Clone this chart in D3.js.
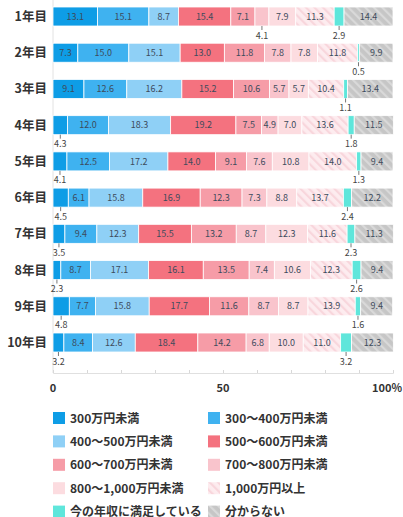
<!DOCTYPE html>
<html><head><meta charset="utf-8">
<script src="https://cdn.jsdelivr.net/npm/d3@7"></script>
<style>
html,body{margin:0;padding:0;background:#fff;}
svg{display:block;font-family:"Noto Sans CJK JP","Noto Sans",sans-serif;}
</style>
</head><body>
<script>
const years = ["1年目","2年目","3年目","4年目","5年目","6年目","7年目","8年目","9年目","10年目"];
const seriesNames = ["300万円未満","300〜400万円未満","400〜500万円未満","500〜600万円未満","600〜700万円未満","700〜800万円未満","800〜1,000万円未満","1,000万円以上","今の年収に満足している","分からない"];
const s300 = [13.1,7.3,9.1,4.3,4.1,4.5,3.5,2.3,4.8,3.2];
const s400 = [15.1,15.0,12.6,12.0,12.5,6.1,9.4,8.7,7.7,8.4];
const s500 = [8.7,15.1,16.2,18.3,17.2,15.8,12.3,17.1,15.8,12.6];
const s600 = [15.4,13.0,15.2,19.2,14.0,16.9,15.5,16.1,17.7,18.4];
const s700 = [7.1,11.8,10.6,7.5,9.1,12.3,13.2,13.5,11.6,14.2];
const s800 = [4.1,7.8,5.7,4.9,7.6,7.3,8.7,7.4,8.7,6.8];
const s1000 = [7.9,7.8,5.7,7.0,10.8,8.8,12.3,10.6,8.7,10.0];
const sOver = [11.3,11.8,10.4,13.6,14.0,13.7,11.6,12.3,13.9,11.0];
const sSatisfied = [2.9,0.5,1.1,1.8,1.3,2.4,2.3,2.6,1.6,3.2];
const sUnknown = [14.4,9.9,13.4,11.5,9.4,12.2,11.3,9.4,9.4,12.3];
const tickLabels = ["0","50","100%"];

const seriesValues = [s300,s400,s500,s600,s700,s800,s1000,sOver,sSatisfied,sUnknown];
const fills = ["#0e9de6","#3fb2f0","#8fd0f6","#f4727f","#f69ca7","#f9c4cc","#fcdce0","url(#hatchPink)","#5fe6db","url(#hatchGray)"];

const W = 403, H = 517;
const svg = d3.select("body").append("svg").attr("width", W).attr("height", H);
const defs = svg.append("defs");
function hatch(id, base, stripe){
  const p = defs.append("pattern").attr("id", id).attr("patternUnits","userSpaceOnUse")
    .attr("width",6).attr("height",6).attr("patternTransform","rotate(-45)");
  p.append("rect").attr("width",6).attr("height",6).attr("fill",base);
  p.append("rect").attr("width",2.2).attr("height",6).attr("fill",stripe);
}
hatch("hatchPink","#fdecef","#f8d6dc");
hatch("hatchGray","#c6c6c6","#d9d9d9");

const x = d3.scaleLinear().domain([0,100]).range([53,393]);
const y = d3.scalePoint().domain(years).range([16.5,342.5]);
const barH = 19;

// axis
const axisY = 373;
svg.append("line").attr("x1",x(0)).attr("x2",x(0)).attr("y1",0).attr("y2",axisY).attr("stroke","#e2e2e2");
const axis = d3.axisTop(x).tickValues(d3.range(0,101,10)).tickSize(3).tickFormat("");
const ag = svg.append("g").attr("transform",`translate(0,${axisY})`).call(axis);
ag.select(".domain").attr("stroke","#e0e0e0");
ag.selectAll(".tick line").attr("stroke","#d8d8d8");
svg.selectAll(".tlab").data([0,50,100]).enter().append("text")
  .attr("x",d=>d===100?402:x(d)).attr("y",392).attr("text-anchor",d=>d===100?"end":"middle")
  .attr("font-size",11).attr("font-weight","bold").attr("fill","#333")
  .text((d,i)=>tickLabels[i]);

// category labels
svg.selectAll(".ylab").data(years).enter().append("text")
  .attr("x",47).attr("y",d=>y(d)+4.5).attr("text-anchor","end")
  .attr("font-size",12.5).attr("font-weight","bold").attr("fill","#333").text(d=>d);

// bars
years.forEach((yr,i)=>{
  let cum = 0;
  seriesValues.forEach((arr,s)=>{
    const v = arr[i];
    const x0 = x(cum), x1 = x(cum+v);
    cum += v;
    const g = svg.append("g");
    g.append("rect").attr("x",x0).attr("y",y(yr)-barH/2).attr("width",Math.max(0,x1-x0)).attr("height",barH)
      .attr("fill",fills[s]).attr("stroke","#fff").attr("stroke-width",0.8);
    const cx = (x0+x1)/2;
    const outside = (s===8) || v < 4.85;
    if(!outside){
      g.append("text").attr("x",cx).attr("y",y(yr)+3.2).attr("text-anchor","middle")
        .attr("font-size",9).attr("fill","#3d4b5c").text(v.toFixed(1));
    } else {
      const yb = y(yr)+barH/2;
      g.append("line").attr("x1",cx).attr("x2",cx).attr("y1",yb).attr("y2",yb+4).attr("stroke","#555").attr("stroke-width",0.8);
      g.append("text").attr("x",cx).attr("y",yb+12.5).attr("text-anchor","middle")
        .attr("font-size",9).attr("fill","#444").text(v.toFixed(1));
    }
  });
});

// legend
const leg = svg.selectAll(".leg").data(seriesNames).enter().append("g")
  .attr("transform",(d,i)=>`translate(${i%2===0?53:208},${412+Math.floor(i/2)*23.4})`);
leg.append("rect").attr("width",12).attr("height",12).attr("fill",(d,i)=>fills[i]);
leg.append("text").attr("x",17).attr("y",10.5).attr("font-size",12).attr("font-weight","bold")
  .attr("fill","#333").text(d=>d);
</script>
</body></html>
